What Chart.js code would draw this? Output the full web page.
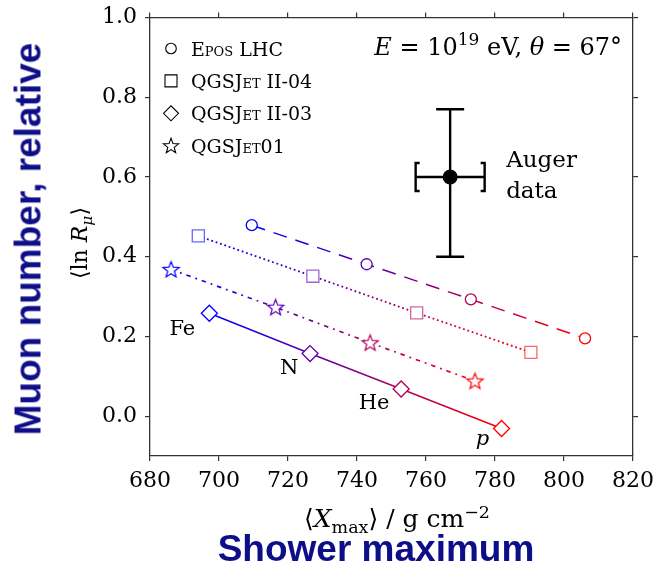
<!DOCTYPE html>
<html lang="en">
<head>
<meta charset="UTF-8">
<title>Muon number vs shower maximum</title>
<script src="https://cdn.jsdelivr.net/npm/chart.js@4.4.0/dist/chart.umd.min.js"></script>
<style>
    body { margin: 0; background: #fff; }
    #wrap { position: relative; width: 656px; height: 568px; }
    .blue { position: absolute; color: #0e0e88; font-family: 'Liberation Sans', Arial, sans-serif; font-weight: bold; white-space: nowrap; line-height: 1; }
    .math { position: absolute; font-family: 'DejaVu Serif', serif; white-space: nowrap; line-height: 1; color: #000; }
    #ytitle { left: 28px; top: 239px; font-size: 37px; transform: translate(-50%, -50%) rotate(-90deg); }
    #ymath { left: 80px; top: 243px; font-size: 22px; transform: translate(-50%, -50%) rotate(-90deg); }
    #xmath { left: 397px; top: 506px; font-size: 25px; transform: translateX(-50%); }
    #xtitle { left: 376px; top: 530px; font-size: 37px; transform: translateX(-50%); }
    sub, sup { font-size: 70%; line-height: 0; }
</style>
</head>
<body>
<div id="wrap">
    <canvas id="chart" width="656" height="568"></canvas>
    <div class="blue" id="ytitle">Muon number, relative</div>
    <div class="math" id="ymath">⟨ln <i>R</i><sub><i>μ</i></sub>⟩</div>
    <div class="math" id="xmath">⟨<i>X</i><sub>max</sub>⟩ / g cm<sup>−2</sup></div>
    <div class="blue" id="xtitle">Shower maximum</div>
</div>

<script>
// axis ticks
var xTicks = [680, 700, 720, 740, 760, 780, 800, 820];
var yTicks = [0.0, 0.2, 0.4, 0.6, 0.8, 1.0];

// primaries, from Fe (blue) to p (red)
var primaries = ['Fe', 'N', 'He', 'p'];
var primaryRGB = [[0, 0, 255], [90, 0, 175], [175, 0, 90], [255, 0, 0]];

// model predictions, one point per primary (Fe, N, He, p)
var seriesNames = ['Epos LHC', 'QGSJet II-04', 'QGSJet II-03', 'QGSJet01'];
var eposX = [709.5, 742.8, 773.0, 806.1];
var eposY = [0.479, 0.381, 0.293, 0.195];
var qgsII04X = [694.0, 727.2, 757.3, 790.4];
var qgsII04Y = [0.452, 0.351, 0.259, 0.160];
var qgsII03X = [697.2, 726.4, 752.8, 781.9];
var qgsII03Y = [0.258, 0.157, 0.068, -0.031];
var qgs01X = [686.1, 716.4, 743.8, 774.2];
var qgs01Y = [0.368, 0.273, 0.184, 0.088];

// Auger measurement
var augerX = 767, augerXErr = 10;
var augerY = 0.60, augerYErrLow = 0.20, augerYErrHigh = 0.17;

var serif = "'DejaVu Serif', serif";

function rgba(c, a) { return 'rgba(' + c[0] + ',' + c[1] + ',' + c[2] + ',' + a + ')'; }
var fullCols = primaryRGB.map(function (c) { return rgba(c, 1); });
var paleCols = primaryRGB.map(function (c) { return rgba(c, 0.6); });

function pts(xs, ys) { return xs.map(function (x, i) { return { x: x, y: ys[i] }; }); }

// colour of the line goes from point to point along x
function lineGradient(xs, cols) {
    return function (c) {
        var chart = c.chart;
        if (!chart.chartArea) return cols[0];
        var sx = chart.scales.x;
        var x0 = sx.getPixelForValue(xs[0]), x1 = sx.getPixelForValue(xs[xs.length - 1]);
        var g = chart.ctx.createLinearGradient(x0, 0, x1, 0);
        xs.forEach(function (v, i) {
            g.addColorStop(Math.min(1, Math.max(0, (sx.getPixelForValue(v) - x0) / (x1 - x0))), cols[i]);
        });
        return g;
    };
}

function starPath(ctx, x, y, r) {
    ctx.beginPath();
    for (var i = 0; i < 10; i++) {
        var rr = i % 2 ? r * 0.42 : r, a = -Math.PI / 2 + i * Math.PI / 5;
        ctx.lineTo(x + rr * Math.cos(a), y + rr * Math.sin(a));
    }
    ctx.closePath();
}

function starImage(color, r) {
    var s = Math.ceil(2 * r + 4), cv = document.createElement('canvas');
    cv.width = s; cv.height = s;
    var g = cv.getContext('2d');
    starPath(g, s / 2, s / 2 + 0.6, r);
    g.fillStyle = '#fff'; g.fill();
    g.strokeStyle = color; g.lineWidth = 1.2; g.stroke();
    return cv;
}
var starImages = fullCols.map(function (c) { return starImage(c, 8.5); });

function drawMarker(ctx, kind, x, y) {
    ctx.save();
    ctx.strokeStyle = '#000'; ctx.fillStyle = '#fff'; ctx.lineWidth = 1.1;
    ctx.beginPath();
    if (kind === 'circle') ctx.arc(x, y, 5.3, 0, Math.PI * 2);
    else if (kind === 'rect') ctx.rect(x - 6, y - 6, 12, 12);
    else if (kind === 'rectRot') { ctx.moveTo(x - 7.5, y); ctx.lineTo(x, y - 7.5); ctx.lineTo(x + 7.5, y); ctx.lineTo(x, y + 7.5); ctx.closePath(); }
    else starPath(ctx, x, y + 0.6, 8);
    ctx.fill(); ctx.stroke();
    ctx.restore();
}

function drawRich(ctx, parts, x, y, size, align) {
    var fonts = parts.map(function (p) {
        return (p.i ? 'italic ' : '') + (p.sup ? Math.round(size * 0.7) : size) + 'px ' + serif;
    });
    var w = 0;
    parts.forEach(function (p, k) { ctx.font = fonts[k]; w += ctx.measureText(p.t).width; });
    var cx = align === 'right' ? x - w : (align === 'center' ? x - w / 2 : x);
    ctx.textAlign = 'left';
    parts.forEach(function (p, k) {
        ctx.font = fonts[k];
        ctx.fillText(p.t, cx, y - (p.sup ? size * 0.4 : 0));
        cx += ctx.measureText(p.t).width;
    });
}

var seriesMarkers = ['circle', 'rect', 'rectRot', 'star'];

var annotations = {
    id: 'annotations',
    beforeDatasetsDraw: function (chart) {
        // Auger error bars
        var ctx = chart.ctx, sx = chart.scales.x, sy = chart.scales.y;
        var px = sx.getPixelForValue(augerX), py = sy.getPixelForValue(augerY);
        var yTop = sy.getPixelForValue(augerY + augerYErrHigh), yBot = sy.getPixelForValue(augerY - augerYErrLow);
        var xL = sx.getPixelForValue(augerX - augerXErr), xR = sx.getPixelForValue(augerX + augerXErr);
        ctx.save();
        ctx.strokeStyle = '#000'; ctx.lineWidth = 2.4; ctx.lineCap = 'butt';
        ctx.beginPath();
        ctx.moveTo(px, yTop); ctx.lineTo(px, yBot);
        ctx.moveTo(px - 14, yTop); ctx.lineTo(px + 14, yTop);
        ctx.moveTo(px - 14, yBot); ctx.lineTo(px + 14, yBot);
        ctx.moveTo(xL, py); ctx.lineTo(xR, py);
        ctx.stroke();
        ctx.beginPath();
        ctx.moveTo(xL + 4, py - 14); ctx.lineTo(xL, py - 14); ctx.lineTo(xL, py + 14); ctx.lineTo(xL + 4, py + 14);
        ctx.moveTo(xR - 4, py - 14); ctx.lineTo(xR, py - 14); ctx.lineTo(xR, py + 14); ctx.lineTo(xR - 4, py + 14);
        ctx.stroke();
        ctx.restore();
    },
    afterDraw: function (chart) {
        var ctx = chart.ctx, a = chart.chartArea, sx = chart.scales.x, sy = chart.scales.y;
        ctx.save();
        ctx.fillStyle = '#000';
        ctx.textBaseline = 'alphabetic';

        // legend
        seriesNames.forEach(function (name, i) {
            var cy = a.top + 31 + i * 32.4;
            drawMarker(ctx, seriesMarkers[i], a.left + 21, cy);
            ctx.font = 'small-caps 19px ' + serif;
            ctx.textAlign = 'left';
            ctx.fillText(name, a.left + 41, cy + 7);
        });

        // energy and zenith angle
        drawRich(ctx, [
            { t: 'E', i: 1 }, { t: ' = 10' }, { t: '19', sup: 1 }, { t: ' eV, ' },
            { t: 'θ', i: 1 }, { t: ' = 67°' }
        ], a.right - 11, a.top + 37.5, 24, 'right');

        // Auger label
        var px = sx.getPixelForValue(augerX), py = sy.getPixelForValue(augerY);
        ctx.font = '23px ' + serif;
        ctx.textAlign = 'left';
        ctx.fillText('Auger', px + 56, py - 10);
        ctx.fillText('data', px + 56, py + 21);

        // primary labels beside the QGSJet II-03 points
        var offs = [[-27, 22], [-21, 20], [-27, 20], [-19, 17]];
        primaries.forEach(function (p, i) {
            var x = sx.getPixelForValue(qgsII03X[i]) + offs[i][0];
            var y = sy.getPixelForValue(qgsII03Y[i]) + offs[i][1];
            ctx.font = (p === 'p' ? 'italic ' : '') + '21px ' + serif;
            ctx.textAlign = 'center';
            ctx.fillText(p, x, y);
        });
        ctx.restore();
    }
};

function modelSet(label, xs, ys, cols, style, radius, dash, lw) {
    return {
        label: label,
        data: pts(xs, ys),
        showLine: true,
        borderColor: lineGradient(xs, fullCols),
        borderWidth: lw,
        borderDash: dash,
        pointStyle: style,
        pointRadius: radius,
        pointBorderColor: cols,
        pointBackgroundColor: '#fff',
        pointBorderWidth: 1.3
    };
}

var gridOpts = { drawOnChartArea: false, drawTicks: true, tickLength: 5, color: '#333', lineWidth: 1.2 };
var borderOpts = { color: '#333', width: 1.3 };
var tickFont = { family: serif, size: 22 };

var ctx = document.getElementById('chart').getContext('2d');
var chart = new Chart(ctx, {
    type: 'scatter',
    data: {
        datasets: [
            modelSet(seriesNames[0], eposX, eposY, fullCols, 'circle', 5.5, [14, 9], 1.5),
            modelSet(seriesNames[1], qgsII04X, qgsII04Y, paleCols, 'rect', 8.5, [1.8, 2.8], 1.8),
            modelSet(seriesNames[2], qgsII03X, qgsII03Y, fullCols, 'rectRot', 8, [], 1.5),
            modelSet(seriesNames[3], qgs01X, qgs01Y, fullCols, starImages, 8, [4.5, 5, 1.8, 5], 1.7),
            {
                label: 'Auger data',
                data: [{ x: augerX, y: augerY }],
                pointRadius: 7.5,
                pointBackgroundColor: '#000',
                pointBorderWidth: 0
            }
        ]
    },
    options: {
        responsive: false,
        animation: false,
        devicePixelRatio: 1,
        layout: { padding: { left: 100, right: 18, top: 12.5, bottom: 72 } },
        plugins: { legend: { display: false }, tooltip: { enabled: false } },
        scales: {
            x: {
                type: 'linear', position: 'bottom', min: 680, max: 820,
                afterBuildTicks: function (s) { s.ticks = xTicks.map(function (v) { return { value: v }; }); },
                afterFit: function (s) { s.height = 40; s.paddingLeft = 0; s.paddingRight = 0; },
                grid: gridOpts, border: borderOpts,
                ticks: { font: tickFont, color: '#000', padding: 7, maxRotation: 0, autoSkip: false,
                         callback: function (v) { return String(v); } }
            },
            x2: {
                type: 'linear', axis: 'x', position: 'top', min: 680, max: 820,
                afterBuildTicks: function (s) { s.ticks = xTicks.map(function (v) { return { value: v }; }); },
                afterFit: function (s) { s.height = 5; s.paddingLeft = 0; s.paddingRight = 0; },
                grid: gridOpts, border: borderOpts, ticks: { display: false }
            },
            y: {
                type: 'linear', position: 'left', min: -0.1, max: 1.0,
                afterBuildTicks: function (s) { s.ticks = yTicks.map(function (v) { return { value: v }; }); },
                afterFit: function (s) { s.width = 50; s.paddingTop = 0; s.paddingBottom = 0; },
                grid: gridOpts, border: borderOpts,
                ticks: { font: tickFont, color: '#000', padding: 8,
                         callback: function (v) { return Number(v).toFixed(1); } }
            },
            y2: {
                type: 'linear', axis: 'y', position: 'right', min: -0.1, max: 1.0,
                afterBuildTicks: function (s) { s.ticks = yTicks.map(function (v) { return { value: v }; }); },
                afterFit: function (s) { s.width = 5; s.paddingTop = 0; s.paddingBottom = 0; },
                grid: gridOpts, border: borderOpts, ticks: { display: false }
            }
        }
    },
    plugins: [annotations]
});
</script>
</body>
</html>
